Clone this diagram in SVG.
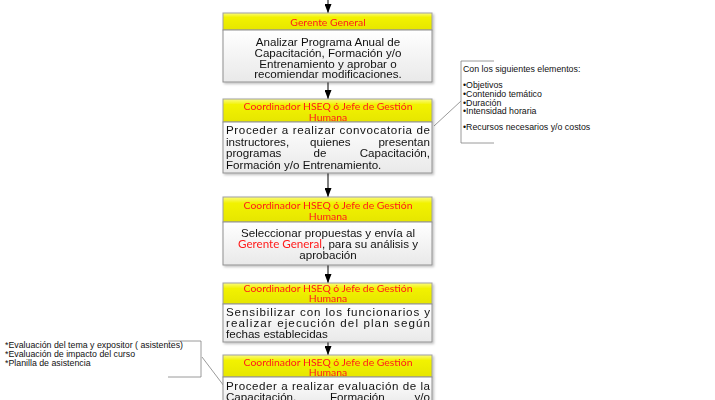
<svg xmlns="http://www.w3.org/2000/svg" width="715" height="400" viewBox="0 0 715 400">
<defs>
<linearGradient id="hdr" x1="0" y1="0" x2="0" y2="1"><stop offset="0" stop-color="#fbfb80"/><stop offset="0.25" stop-color="#f2f200"/><stop offset="1" stop-color="#e6e600"/></linearGradient>
<linearGradient id="bdy" x1="0" y1="0" x2="0" y2="1"><stop offset="0" stop-color="#ffffff"/><stop offset="1" stop-color="#e9e9e9"/></linearGradient>
<marker id="ah" markerWidth="9" markerHeight="7" refX="9" refY="3.5" orient="auto" markerUnits="userSpaceOnUse"><path d="M0,0 L9,3.5 L0,7 Z" fill="#000"/></marker>
<filter id="sh" x="-5%" y="-5%" width="115%" height="120%"><feDropShadow dx="1.5" dy="1.5" stdDeviation="1" flood-color="#000" flood-opacity="0.25"/></filter>
</defs>
<style>
.h{fill:url(#hdr);stroke:#a0a0a0;stroke-width:1}
.b{fill:url(#bdy);stroke:#909090;stroke-width:1}
.ht{font-family:Lato,"Open Sans",sans-serif;font-size:10.4px;fill:#ff1a1a;text-anchor:middle}
.t{font-family:"Liberation Sans",Arial,sans-serif;font-size:11.6px;fill:#111}
.c{text-anchor:middle}
.e{text-anchor:end}
.r{font-family:Lato,"Open Sans",sans-serif;fill:#ff1a1a}
.n{font-family:"Liberation Sans",Arial,sans-serif;font-size:8.8px;fill:#111}
.cn{fill:none;stroke:#000;stroke-width:1}
.cl{fill:none;stroke:#808080;stroke-width:0.8}
</style>
<g id="connectors">
<line class="cn" x1="328" y1="0" x2="328" y2="13" marker-end="url(#ah)"/>
<line class="cn" x1="328" y1="82" x2="328" y2="99" marker-end="url(#ah)"/>
<line class="cn" x1="328" y1="173" x2="328" y2="197" marker-end="url(#ah)"/>
<line class="cn" x1="328" y1="265" x2="328" y2="283" marker-end="url(#ah)"/>
<line class="cn" x1="328" y1="342" x2="328" y2="355" marker-end="url(#ah)"/>
<line class="cl" x1="434" y1="126" x2="461" y2="101"/>
<line class="cl" x1="202" y1="357" x2="224" y2="386"/>
</g>
<g id="node1" filter="url(#sh)">
<rect class="h" x="223" y="13" width="209" height="17"/>
<rect class="b" x="223" y="30" width="209" height="52"/>
<text class="ht" x="328" y="25.5">Gerente General</text>
<text class="t c" x="328" y="45.5">Analizar Programa Anual de</text>
<text class="t c" x="328" y="56.5">Capacitación, Formación y/o</text>
<text class="t c" x="328" y="67.5">Entrenamiento y aprobar o</text>
<text class="t c" x="328" y="78">recomiendar modificaciones.</text>
</g>
<g id="node2" filter="url(#sh)">
<rect class="h" x="223" y="99" width="209" height="23"/>
<rect class="b" x="223" y="122" width="209" height="51"/>
<text class="ht" x="328" y="110">Coordinador HSEQ ó Jefe de Gestión</text>
<text class="ht" x="328" y="120.5">Humana</text>
<text class="t" x="226" y="134" textLength="204" lengthAdjust="spacing">Proceder a realizar convocatoria de</text>
<text class="t" x="226" y="145.5">instructores,</text><text class="t" x="310" y="145.5">quienes</text><text class="t e" x="430" y="145.5">presentan</text>
<text class="t" x="226" y="157">programas</text><text class="t c" x="320" y="157">de</text><text class="t e" x="430" y="157">Capacitación,</text>
<text class="t" x="226" y="168.5">Formación y/o Entrenamiento.</text>
</g>
<g id="note1">
<polyline class="cl" points="494,61 461,61 461,143 494,143"/>
<text class="n" x="463" y="72">Con los siguientes elementos:</text>
<text class="n" x="463" y="88">•Objetivos</text>
<text class="n" x="463" y="97">•Contenido temático</text>
<text class="n" x="463" y="105.5">•Duración</text>
<text class="n" x="463" y="114">•Intensidad horaria</text>
<text class="n" x="463" y="129.5">•Recursos necesarios y/o costos</text>
</g>
<g id="node3" filter="url(#sh)">
<rect class="h" x="223" y="197" width="209" height="25"/>
<rect class="b" x="223" y="222" width="209" height="43"/>
<text class="ht" x="328" y="209">Coordinador HSEQ ó Jefe de Gestión</text>
<text class="ht" x="328" y="219.5">Humana</text>
<text class="t c" x="328" y="236.5">Seleccionar propuestas y envía al</text>
<text class="t c" x="328" y="247.5"><tspan class="r">Gerente General</tspan>,  para su análisis y</text>
<text class="t c" x="328" y="258.5">aprobación</text>
</g>
<g id="node4" filter="url(#sh)">
<rect class="h" x="223" y="283" width="209" height="21"/>
<rect class="b" x="223" y="304" width="209" height="38"/>
<text class="ht" x="328" y="291.5">Coordinador HSEQ ó Jefe de Gestión</text>
<text class="ht" x="328" y="302">Humana</text>
<text class="t" x="226" y="315.5" textLength="204" lengthAdjust="spacing">Sensibilizar con los funcionarios y</text>
<text class="t" x="226" y="326.5" textLength="204" lengthAdjust="spacing">realizar ejecución del plan según</text>
<text class="t" x="226" y="337.5">fechas establecidas</text>
</g>
<g id="note2">
<polyline class="cl" points="168,341 201,341 201,377 168,377"/>
<text class="n" x="5" y="348">*Evaluación del tema y expositor ( asistentes)</text>
<text class="n" x="5" y="357">*Evaluación de impacto del curso</text>
<text class="n" x="5" y="366">*Planilla de asistencia</text>
</g>
<g id="node5" filter="url(#sh)">
<rect class="h" x="223" y="355" width="209" height="22"/>
<rect class="b" x="223" y="377" width="209" height="30"/>
<text class="ht" x="328" y="365.5">Coordinador HSEQ ó Jefe de Gestión</text>
<text class="ht" x="328" y="375.5">Humana</text>
<text class="t" x="226" y="390" textLength="204" lengthAdjust="spacing">Proceder a realizar evaluación de la</text>
<text class="t" x="226" y="401">Capacitación,</text><text class="t" x="330" y="401">Formación</text><text class="t e" x="430" y="401">y/o</text>
</g>
</svg>
